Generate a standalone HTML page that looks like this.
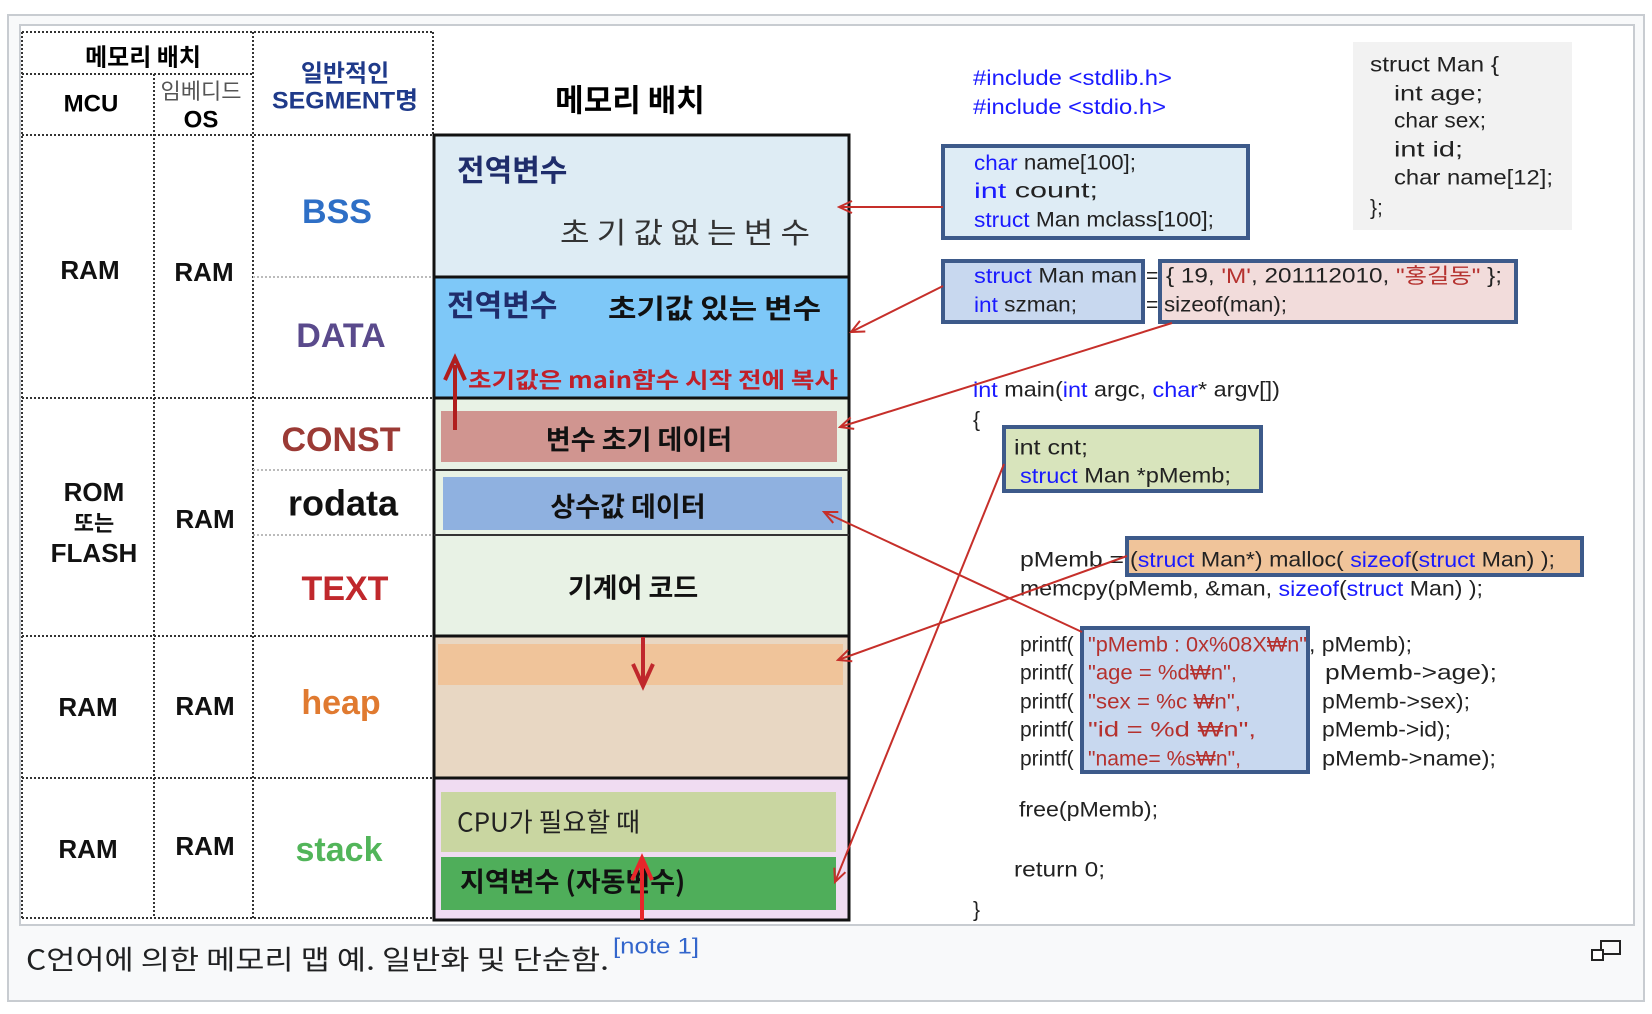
<!DOCTYPE html>
<html><head><meta charset="utf-8">
<style>
html,body{margin:0;padding:0;background:#fff;width:1652px;height:1014px;overflow:hidden}
svg{display:block}
text{font-family:"Liberation Sans","Noto Sans CJK KR",sans-serif}
.k{font-family:"Noto Sans CJK KR","Liberation Sans",sans-serif}
.c{font-family:"Liberation Sans","Noto Sans CJK KR",sans-serif;font-size:21px;fill:#222}
.b{fill:#1a1aff}
.r{fill:#b5312e}
</style></head><body>
<svg width="1652" height="1014" viewBox="0 0 1652 1014" xmlns="http://www.w3.org/2000/svg">
<defs>
<marker id="ah" markerWidth="16" markerHeight="16" refX="14" refY="8" orient="auto" markerUnits="userSpaceOnUse">
<path d="M1,2 L14,8 L1,14" fill="none" stroke="#c62f2a" stroke-width="2"/>
</marker>
</defs>
<rect x="8" y="15" width="1636" height="986" fill="#f8f9fa" stroke="#c8ccd1" stroke-width="2"/>
<rect x="20" y="25" width="1614" height="900" fill="#fff" stroke="#c8ccd1" stroke-width="2"/>

<g stroke="#333" stroke-width="2" stroke-dasharray="2,2" fill="none">
<path d="M22,32 H433 M22,32 V918 M22,918 H433 M253,32 V918 M154,74 V918 M433,32 V135 M22,74 H253 M22,135 H433 M22,398 H433 M22,636 H433 M22,778 H433"/>
</g>
<g stroke="#bbb" stroke-width="2" stroke-dasharray="2,2" fill="none">
<path d="M253,277 H433 M253,470 H433 M253,535 H433"/>
</g>

<rect x="434" y="135" width="415" height="142" fill="#deecf4"/>
<rect x="434" y="277" width="415" height="121" fill="#7ec8f8"/>
<rect x="434" y="398" width="415" height="238" fill="#e8f2e5"/>
<rect x="441" y="411" width="396" height="51" fill="#d09590"/>
<rect x="443" y="477" width="399" height="53" fill="#8fb1e0"/>
<rect x="434" y="636" width="415" height="142" fill="#e8d7c3"/>
<rect x="438" y="644" width="405" height="41" fill="#f0c49a"/>
<rect x="434" y="778" width="415" height="142" fill="#f0dcf2"/>
<rect x="441" y="792" width="395" height="60" fill="#c9d6a1"/>
<rect x="441" y="857" width="395" height="53" fill="#4fae5a"/>
<g stroke="#111" stroke-width="3" fill="none">
<rect x="434" y="135" width="415" height="785"/>
<path d="M434,277 H849 M434,398 H849 M434,636 H849 M434,778 H849"/>
</g>
<path d="M434,470 H849 M434,535 H849" stroke="#333" stroke-width="2"/>

<text x="143" y="55" class="k" font-size="24" font-weight="bold" text-anchor="middle" dominant-baseline="central">메모리 배치</text>
<text x="91" y="104" font-size="24" font-weight="bold" text-anchor="middle" dominant-baseline="central">MCU</text>
<text x="201" y="90" class="k" font-size="22" fill="#555" text-anchor="middle" dominant-baseline="central">임베디드</text>
<text x="201" y="120" font-size="24" font-weight="bold" text-anchor="middle" dominant-baseline="central">OS</text>
<text x="345" y="71" class="k" font-size="24" font-weight="bold" fill="#1f3a8a" text-anchor="middle" dominant-baseline="central">일반적인</text>
<text x="345" y="101" font-size="24" font-weight="bold" fill="#1f3a8a" text-anchor="middle" dominant-baseline="central" textLength="146" lengthAdjust="spacingAndGlyphs">SEGMENT명</text>
<text x="630" y="98" class="k" font-size="31" font-weight="bold" text-anchor="middle" dominant-baseline="central">메모리 배치</text>

<g font-size="26" font-weight="bold" text-anchor="middle" dominant-baseline="central" fill="#111">
<text x="90" y="270">RAM</text><text x="204" y="272">RAM</text>
<text x="94" y="492">ROM</text><text x="94" y="522" class="k" font-size="22">또는</text><text x="94" y="553">FLASH</text>
<text x="205" y="519">RAM</text>
<text x="88" y="707">RAM</text><text x="205" y="706">RAM</text>
<text x="88" y="849">RAM</text><text x="205" y="846">RAM</text>
</g>
<g font-size="34" font-weight="bold" text-anchor="middle" dominant-baseline="central">
<text x="337" y="212" fill="#2e6fc6">BSS</text>
<text x="341" y="336" fill="#5a4a8c">DATA</text>
<text x="341" y="440" fill="#9b3a35">CONST</text>
<text x="343" y="503" fill="#111" font-size="36">rodata</text>
<text x="345" y="589" fill="#c0282c">TEXT</text>
<text x="341" y="703" fill="#e07a30">heap</text>
<text x="339" y="850" fill="#52b55a">stack</text>
</g>

<text x="457" y="168" class="k" font-size="30" font-weight="bold" fill="#1f2d6b" dominant-baseline="central">전역변수</text>
<text x="560" y="231" class="k" font-size="29" fill="#333" dominant-baseline="central" textLength="250" lengthAdjust="spacingAndGlyphs">초 기 값  없 는  변 수</text>
<text x="447" y="303" class="k" font-size="30" font-weight="bold" fill="#1f2d6b" dominant-baseline="central">전역변수</text>
<text x="608" y="307" class="k" font-size="27" font-weight="bold" fill="#111" dominant-baseline="central" textLength="213" lengthAdjust="spacingAndGlyphs">초기값 있는 변수</text>
<text x="468" y="379" class="k" font-size="22" font-weight="bold" fill="#c0202a" dominant-baseline="central" textLength="370" lengthAdjust="spacingAndGlyphs">초기값은 main함수 시작 전에 복사</text>
<text x="639" y="438" class="k" font-size="27" font-weight="bold" fill="#111" text-anchor="middle" dominant-baseline="central">변수 초기 데이터</text>
<text x="628" y="505" class="k" font-size="27" font-weight="bold" fill="#111" text-anchor="middle" dominant-baseline="central">상수값 데이터</text>
<text x="633" y="586" class="k" font-size="27" font-weight="bold" fill="#111" text-anchor="middle" dominant-baseline="central">기계어 코드</text>
<text x="457" y="821" class="k" font-size="26" fill="#222" dominant-baseline="central">CPU가 필요할 때</text>
<text x="460" y="880" class="k" font-size="27" font-weight="bold" fill="#111" dominant-baseline="central">지역변수 (자동변수)</text>

<path d="M455,430 V365" stroke="#b01e1e" stroke-width="4"/>
<path d="M445,380 L455,358 L465,380" fill="none" stroke="#b01e1e" stroke-width="4"/>
<path d="M643,637 V682" stroke="#c0282c" stroke-width="4"/>
<path d="M633,664 L643,686 L653,664" fill="none" stroke="#c0282c" stroke-width="4"/>
<path d="M642,920 V862" stroke="#e8262a" stroke-width="4"/>
<path d="M632,880 L642,858 L652,880" fill="none" stroke="#e8262a" stroke-width="4"/>

<text class="c" x="973" y="78" dominant-baseline="central" textLength="199" lengthAdjust="spacingAndGlyphs"><tspan class="b">#include &lt;stdlib.h&gt;</tspan></text>
<text class="c" x="973" y="107" dominant-baseline="central" textLength="193" lengthAdjust="spacingAndGlyphs"><tspan class="b">#include &lt;stdio.h&gt;</tspan></text>

<rect x="1353" y="42" width="219" height="188" fill="#f2f2f2"/>
<text class="c" x="1370" y="65" dominant-baseline="central" textLength="129" lengthAdjust="spacingAndGlyphs">struct Man {</text>
<text class="c" x="1394" y="94" dominant-baseline="central" textLength="89" lengthAdjust="spacingAndGlyphs">int  age;</text>
<text class="c" x="1394" y="121" dominant-baseline="central" textLength="92" lengthAdjust="spacingAndGlyphs">char sex;</text>
<text class="c" x="1394" y="150" dominant-baseline="central" textLength="69" lengthAdjust="spacingAndGlyphs">int  id;</text>
<text class="c" x="1394" y="178" dominant-baseline="central" textLength="159" lengthAdjust="spacingAndGlyphs">char name[12];</text>
<text class="c" x="1370" y="208" dominant-baseline="central">};</text>

<rect x="943" y="146" width="305" height="92" fill="#deecf5" stroke="#3d5a8a" stroke-width="4"/>
<text class="c" x="974" y="163" dominant-baseline="central" textLength="162" lengthAdjust="spacingAndGlyphs"><tspan class="b">char</tspan> name[100];</text>
<text class="c" x="974" y="191" dominant-baseline="central" textLength="124" lengthAdjust="spacingAndGlyphs"><tspan class="b">int</tspan>  count;</text>
<text class="c" x="974" y="220" dominant-baseline="central" textLength="240" lengthAdjust="spacingAndGlyphs"><tspan class="b">struct</tspan> Man mclass[100];</text>

<rect x="943" y="261" width="200" height="61" fill="#c8d8ef" stroke="#3d5a8a" stroke-width="4"/>
<rect x="1160" y="261" width="356" height="61" fill="#f2dcdb" stroke="#3d5a8a" stroke-width="4"/>
<text class="c" x="974" y="276" dominant-baseline="central" textLength="163" lengthAdjust="spacingAndGlyphs"><tspan class="b">struct</tspan> Man man</text>
<text class="c" x="974" y="305" dominant-baseline="central" textLength="103" lengthAdjust="spacingAndGlyphs"><tspan class="b">int</tspan> szman;</text>
<text class="c" x="1146" y="276" dominant-baseline="central">=</text>
<text class="c" x="1146" y="305" dominant-baseline="central">=</text>
<text class="c" x="1166" y="276" dominant-baseline="central" textLength="336" lengthAdjust="spacingAndGlyphs">{ 19, <tspan class="r">'M'</tspan>, 201112010,  <tspan class="r">"홍길동"</tspan> };</text>
<text class="c" x="1164" y="305" dominant-baseline="central" textLength="123" lengthAdjust="spacingAndGlyphs">sizeof(man);</text>

<text class="c" x="973" y="390" dominant-baseline="central" textLength="307" lengthAdjust="spacingAndGlyphs"><tspan class="b">int</tspan> main(<tspan class="b">int</tspan> argc, <tspan class="b">char</tspan>* argv[])</text>
<text class="c" x="973" y="420" dominant-baseline="central">{</text>
<rect x="1004" y="427" width="257" height="64" fill="#d8e4bc" stroke="#3d5a8a" stroke-width="4"/>
<text class="c" x="1014" y="448" dominant-baseline="central" textLength="74" lengthAdjust="spacingAndGlyphs">int cnt;</text>
<text class="c" x="1020" y="476" dominant-baseline="central" textLength="211" lengthAdjust="spacingAndGlyphs"><tspan class="b">struct</tspan> Man *pMemb;</text>

<text class="c" x="1020" y="560" dominant-baseline="central" textLength="104" lengthAdjust="spacingAndGlyphs">pMemb =</text>
<rect x="1127" y="538" width="455" height="37" fill="#f0c49a" stroke="#3d5a8a" stroke-width="4"/>
<text class="c" x="1130" y="560" dominant-baseline="central" textLength="425" lengthAdjust="spacingAndGlyphs">(<tspan class="b">struct</tspan> Man*) malloc( <tspan class="b">sizeof</tspan>(<tspan class="b">struct</tspan> Man) );</text>
<text class="c" x="1020" y="589" dominant-baseline="central" textLength="463" lengthAdjust="spacingAndGlyphs">memcpy(pMemb, &amp;man, <tspan class="b">sizeof</tspan>(<tspan class="b">struct</tspan> Man) );</text>

<rect x="1082" y="628" width="226" height="144" fill="#c8d8ef" stroke="#3d5a8a" stroke-width="4"/>
<text class="c" x="1020" y="645" dominant-baseline="central">printf(</text>
<text class="c" x="1020" y="673" dominant-baseline="central">printf(</text>
<text class="c" x="1020" y="702" dominant-baseline="central">printf(</text>
<text class="c" x="1020" y="730" dominant-baseline="central">printf(</text>
<text class="c" x="1020" y="759" dominant-baseline="central">printf(</text>
<text class="c r" x="1088" y="645" dominant-baseline="central" textLength="219" lengthAdjust="spacingAndGlyphs">"pMemb : 0x%08X₩n"</text>
<text class="c r" x="1088" y="673" dominant-baseline="central" textLength="149" lengthAdjust="spacingAndGlyphs">"age = %d₩n",</text>
<text class="c r" x="1088" y="702" dominant-baseline="central" textLength="153" lengthAdjust="spacingAndGlyphs">"sex  = %c ₩n",</text>
<text class="c r" x="1088" y="730" dominant-baseline="central" textLength="168" lengthAdjust="spacingAndGlyphs">"id    = %d  ₩n",</text>
<text class="c r" x="1088" y="759" dominant-baseline="central" textLength="153" lengthAdjust="spacingAndGlyphs">"name= %s₩n",</text>
<text class="c" x="1309" y="645" dominant-baseline="central" textLength="103" lengthAdjust="spacingAndGlyphs">, pMemb);</text>
<text class="c" x="1325" y="673" dominant-baseline="central" textLength="172" lengthAdjust="spacingAndGlyphs">pMemb-&gt;age);</text>
<text class="c" x="1322" y="702" dominant-baseline="central" textLength="148" lengthAdjust="spacingAndGlyphs">pMemb-&gt;sex);</text>
<text class="c" x="1322" y="730" dominant-baseline="central" textLength="129" lengthAdjust="spacingAndGlyphs">pMemb-&gt;id);</text>
<text class="c" x="1322" y="759" dominant-baseline="central" textLength="174" lengthAdjust="spacingAndGlyphs">pMemb-&gt;name);</text>
<text class="c" x="1019" y="810" dominant-baseline="central" textLength="139" lengthAdjust="spacingAndGlyphs">free(pMemb);</text>
<text class="c" x="1014" y="870" dominant-baseline="central" textLength="91" lengthAdjust="spacingAndGlyphs">return 0;</text>
<text class="c" x="973" y="910" dominant-baseline="central">}</text>

<g stroke="#c62f2a" stroke-width="2" fill="none" marker-end="url(#ah)">
<path d="M943,207 L839,207"/>
<path d="M943,286 L851,332"/>
<path d="M1172,323 L840,427"/>
<path d="M1082,632 L824,512"/>
<path d="M1127,556 L838,660"/>
<path d="M1004,464 L835,882"/>
</g>

<text x="26" y="958" class="k" font-size="27" fill="#202122" dominant-baseline="central" textLength="583" lengthAdjust="spacingAndGlyphs">C언어에 의한 메모리 맵 예. 일반화 및 단순함.</text>
<text x="613" y="946" font-size="22" fill="#3366cc" dominant-baseline="central" textLength="86" lengthAdjust="spacingAndGlyphs">[note 1]</text>
<rect x="1601" y="941" width="19" height="13" fill="none" stroke="#222" stroke-width="2"/>
<rect x="1592" y="950" width="11" height="10" fill="#fff" stroke="#222" stroke-width="2"/>
</svg>
</body></html>
